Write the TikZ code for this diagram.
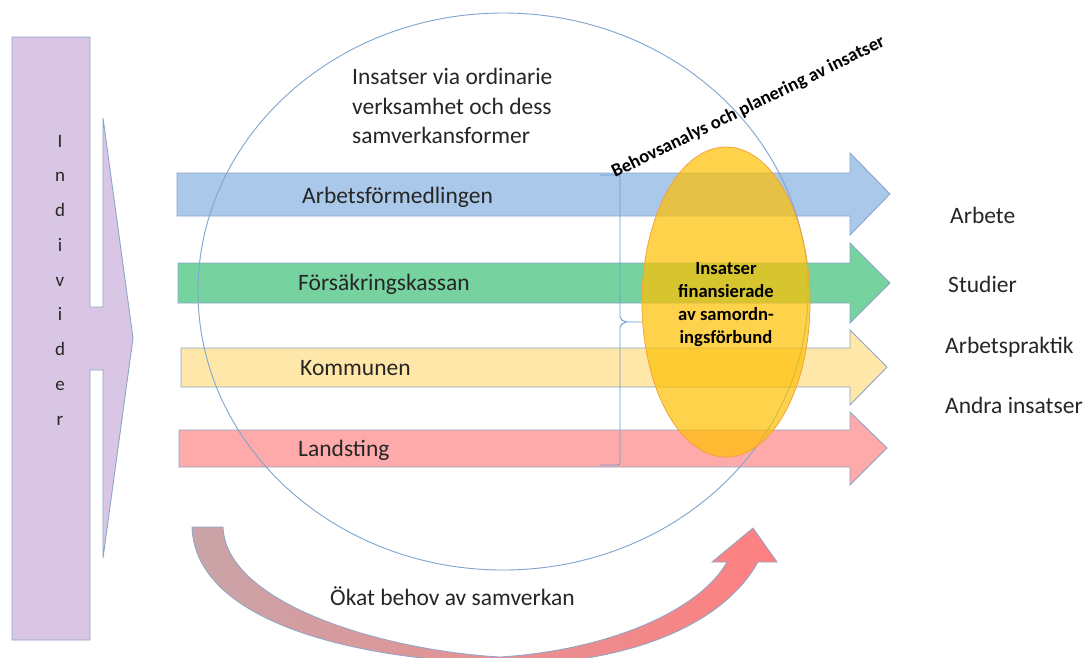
\documentclass[tikz,border=0pt]{standalone}
\usepackage{fontspec}
\setmainfont{Carlito}
\definecolor{indfill}{HTML}{D8C6E4}
\definecolor{shapeline}{HTML}{8CA6C8}
\definecolor{afblue}{HTML}{A9C8EA}
\definecolor{fkgreen}{HTML}{76D29E}
\definecolor{komyellow}{HTML}{FFE7A9}
\definecolor{lsred}{HTML}{FFAAAA}
\definecolor{circline}{HTML}{7FA5CC}
\definecolor{orfill}{HTML}{FFC000}
\definecolor{orline}{HTML}{F2A33A}
\definecolor{bracecol}{HTML}{6A9AD0}
\definecolor{curveL}{HTML}{C9A4A8}
\definecolor{curveR}{HTML}{FF8080}
\tikzset{
  shapebox/.style={draw=shapeline, line width=0.9pt, line join=miter},
  bigtxt/.style={font=\fontsize{23.5}{29.5}\selectfont, inner sep=0pt, anchor=base west, text=black!85},
  boldtxt/.style={font=\fontsize{18.6}{23}\selectfont\bfseries, inner sep=0pt, text=black},
  lettertxt/.style={font=\fontsize{19}{23}\selectfont, inner sep=0pt, anchor=base, text=black!85},
}
\begin{document}
\begin{tikzpicture}[x=1pt,y=-1pt]
\useasboundingbox (0,0) rectangle (1086,657);
\fill[white] (0,0) rectangle (1086,657);

% Individer arrow
\path[shapebox, fill=indfill] (12,37) -- (90,37) -- (90,307) -- (103,307) -- (103,118)
  -- (133,338) -- (103,558) -- (103,370) -- (90,370) -- (90,640) -- (12,640) -- cycle;
\foreach \ch [count=\k from 0] in {I,n,d,i,v,i,d,e,r}
  \node[lettertxt] (ind\k) at (60,{147+34.75*\k}) {\ch};

% horizontal arrows
\path[shapebox, fill=afblue] (177,173) -- (850,173) -- (850,153) -- (890,194) -- (850,235) -- (850,216) -- (177,216) -- cycle;
\path[shapebox, fill=fkgreen] (178,263) -- (850,263) -- (850,243) -- (890,283) -- (850,323) -- (850,303) -- (178,303) -- cycle;
\path[shapebox, fill=komyellow] (181,348) -- (850,348) -- (850,330) -- (887,367) -- (850,405) -- (850,387) -- (181,387) -- cycle;
\path[shapebox, fill=lsred] (179,430) -- (850,430) -- (850,412) -- (887,448) -- (850,485) -- (850,467) -- (179,467) -- cycle;

% big circle
\draw[circline, line width=0.9pt] (503,291.5) ellipse [x radius=305, y radius=278.5];

% brace
\draw[bracecol, line width=0.9pt, rounded corners=2pt] (600,175) -- (620,175) -- (620,319) -- (626,322) -- (642,322);
\draw[bracecol, line width=0.9pt, rounded corners=2pt] (626,322) -- (620,325) -- (620,465) -- (600,465);

% orange ellipse
\fill[orfill, fill opacity=0.7] (726,302) ellipse [x radius=84, y radius=155];
\draw[orline, line width=0.8pt] (726,302) ellipse [x radius=84, y radius=155];

% bottom curved arrow
\begin{scope}
\clip (0,0) rectangle (1086,657);
\path[left color=curveL, right color=curveR, draw=shapeline, line width=0.8pt]
  (192,527) -- (223,527) .. controls (226,603) and (380,650) .. (500,657)
  .. controls (610,650) and (700,610) .. (727,562) -- (712,562) -- (753,528) -- (777,562) -- (758,562)
  .. controls (720,630) and (620,662) .. (520,664)
  .. controls (350,662) and (195,620) .. (192,527) -- cycle;
\end{scope}

% texts
\node[bigtxt] (top1) at (352,84) {Insatser via ordinarie};
\node[bigtxt] (top2) at (352,114) {verksamhet och dess};
\node[bigtxt] (top3) at (352,143) {samverkansformer};

\node[bigtxt] (af) at (302,203) {Arbetsförmedlingen};
\node[bigtxt] (fk) at (298,290) {Försäkringskassan};
\node[bigtxt] (kom) at (300,375) {Kommunen};
\node[bigtxt] (ls) at (298,456) {Landsting};

\node[boldtxt, anchor=base] (e1) at (726,274) {Insatser};
\node[boldtxt, anchor=base] (e2) at (726,297) {finansierade};
\node[boldtxt, anchor=base] (e3) at (726,320) {av samordn-};
\node[boldtxt, anchor=base] (e4) at (726,343) {ingsförbund};

\node[boldtxt, anchor=base west, rotate=26] (beh) at (615,178) {Behovsanalys och planering av insatser};

\node[bigtxt] (r1) at (950,223) {Arbete};
\node[bigtxt] (r2) at (948,292) {Studier};
\node[bigtxt] (r3) at (945,353) {Arbetspraktik};
\node[bigtxt] (r4) at (945,413) {Andra insatser};

\node[bigtxt] (okat) at (330,605) {Ökat behov av samverkan};
\end{tikzpicture}
\end{document}
